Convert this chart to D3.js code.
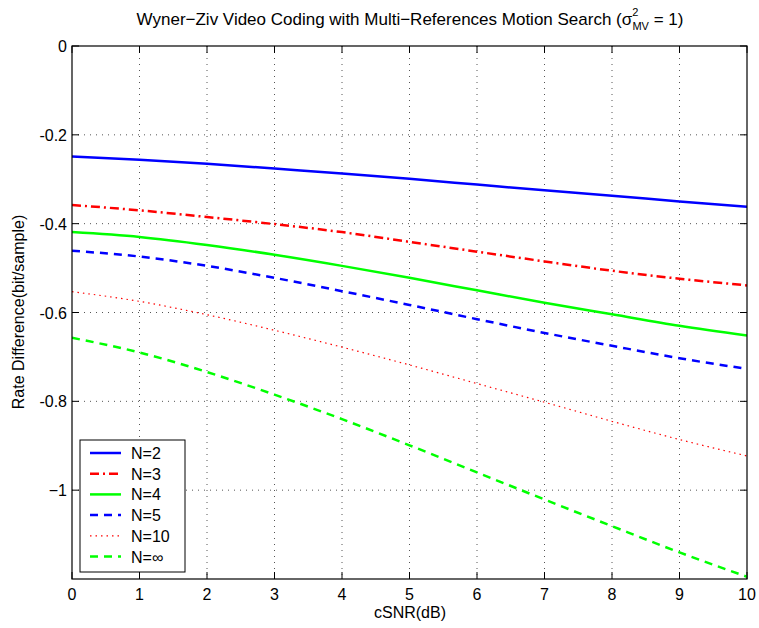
<!DOCTYPE html>
<html>
<head>
<meta charset="utf-8">
<script src="https://cdn.jsdelivr.net/npm/d3@7"></script>
<style>
  body { margin: 0; background: #fff; }
  text { font-family: "Liberation Sans", Arial, sans-serif; fill: #000; }
</style>
</head>
<body>
<svg id="mainsvg" width="759" height="628"></svg>
<script>
const snr = [0, 1, 2, 3, 4, 5, 6, 7, 8, 9, 10];
const n2   = [-0.249, -0.256, -0.265, -0.276, -0.287, -0.299, -0.312, -0.325, -0.337, -0.350, -0.362];
const n3   = [-0.358, -0.370, -0.385, -0.401, -0.419, -0.441, -0.463, -0.485, -0.506, -0.524, -0.539];
const n4   = [-0.419, -0.430, -0.448, -0.470, -0.495, -0.522, -0.550, -0.578, -0.604, -0.630, -0.652];
const n5   = [-0.461, -0.474, -0.495, -0.522, -0.552, -0.583, -0.615, -0.646, -0.675, -0.703, -0.727];
const n10  = [-0.553, -0.575, -0.605, -0.640, -0.678, -0.718, -0.760, -0.802, -0.845, -0.886, -0.923];
const ninf = [-0.657, -0.690, -0.734, -0.785, -0.840, -0.899, -0.960, -1.021, -1.081, -1.140, -1.195];

const seriesNames = ['N=2', 'N=3', 'N=4', 'N=5', 'N=10', 'N=\u221e'];
const seriesVals = [n2, n3, n4, n5, n10, ninf];
const xTicks = [0, 1, 2, 3, 4, 5, 6, 7, 8, 9, 10];
const yTicks = [0, -0.2, -0.4, -0.6, -0.8, -1];
const yTickLabels = ['0', '-0.2', '-0.4', '-0.6', '-0.8', '\u22121'];

const styles = [
  { color: '#0000ff', dash: null, w: 2.5 },
  { color: '#ff0000', dash: '9,4,2,4', w: 2.5 },
  { color: '#00ff00', dash: null, w: 2.5 },
  { color: '#0000ff', dash: '8,6', w: 2.5 },
  { color: '#ff0000', dash: '1.5,4', w: 1.2 },
  { color: '#00ff00', dash: '8,6', w: 2.5 }
];

const svg = d3.select('#mainsvg');
const pL = 72, pR = 747, pT = 46, pB = 579;

const x = d3.scaleLinear().domain([0, 10]).range([pL, pR]);
const y = d3.scaleLinear().domain([-1.2, 0]).range([pB, pT]);

const g = svg.append('g');

// grid
g.selectAll('.vgrid').data(xTicks.slice(1, -1)).join('line')
  .attr('x1', d => x(d)).attr('x2', d => x(d))
  .attr('y1', pT).attr('y2', pB)
  .attr('stroke', '#555').attr('stroke-width', 1).attr('stroke-dasharray', '1,5');
g.selectAll('.hgrid').data(yTicks.slice(1)).join('line')
  .attr('x1', pL).attr('x2', pR)
  .attr('y1', d => y(d)).attr('y2', d => y(d))
  .attr('stroke', '#555').attr('stroke-width', 1).attr('stroke-dasharray', '1,5');

// ticks (inward, on all sides)
const tl = 7;
xTicks.forEach(t => {
  g.append('line').attr('x1', x(t)).attr('x2', x(t)).attr('y1', pB).attr('y2', pB - tl).attr('stroke', '#000');
  g.append('line').attr('x1', x(t)).attr('x2', x(t)).attr('y1', pT).attr('y2', pT + tl).attr('stroke', '#000');
});
yTicks.forEach(t => {
  g.append('line').attr('x1', pL).attr('x2', pL + tl).attr('y1', y(t)).attr('y2', y(t)).attr('stroke', '#000');
  g.append('line').attr('x1', pR).attr('x2', pR - tl).attr('y1', y(t)).attr('y2', y(t)).attr('stroke', '#000');
});

// tick labels
g.selectAll('.xlab').data(xTicks).join('text')
  .attr('x', d => x(d)).attr('y', pB + 21)
  .attr('text-anchor', 'middle').attr('font-size', 16)
  .text(d => d);
g.selectAll('.ylab').data(yTicks).join('text')
  .attr('x', pL - 5).attr('y', d => y(d) + 6)
  .attr('text-anchor', 'end').attr('font-size', 16)
  .text((d, i) => yTickLabels[i]);

// curves
const line = d3.line().x((d, i) => x(snr[i])).y(d => y(d)).curve(d3.curveMonotoneX);
svg.append('clipPath').attr('id', 'clip').append('rect')
  .attr('x', pL).attr('y', pT).attr('width', pR - pL).attr('height', pB - pT);
g.selectAll('.curve').data(seriesVals).join('path')
  .attr('class', 'curve')
  .attr('clip-path', 'url(#clip)')
  .attr('d', d => line(d))
  .attr('fill', 'none')
  .attr('stroke', (d, i) => styles[i].color)
  .attr('stroke-width', (d, i) => styles[i].w)
  .attr('stroke-dasharray', (d, i) => styles[i].dash);

// box
g.append('rect').attr('x', pL).attr('y', pT).attr('width', pR - pL).attr('height', pB - pT)
  .attr('fill', 'none').attr('stroke', '#000').attr('stroke-width', 1.2);

// legend
const lg = g.append('g');
lg.append('rect').attr('x', 80).attr('y', 440).attr('width', 105).attr('height', 132)
  .attr('fill', '#fff').attr('stroke', '#000').attr('stroke-width', 1);
seriesNames.forEach((name, i) => {
  const yy = 453 + i * 20.7;
  lg.append('line').attr('x1', 90).attr('x2', 121).attr('y1', yy).attr('y2', yy)
    .attr('stroke', styles[i].color).attr('stroke-width', styles[i].w)
    .attr('stroke-dasharray', styles[i].dash);
  lg.append('text').attr('x', 131).attr('y', yy + 6).attr('font-size', 16).text(name);
});

// labels
svg.append('text').attr('x', 410).attr('y', 618).attr('text-anchor', 'middle').attr('font-size', 16).text('cSNR(dB)');
svg.append('text').attr('transform', 'translate(24,312) rotate(-90)').attr('text-anchor', 'middle')
  .attr('font-size', 16).text('Rate Difference(bit/sample)');

const title = svg.append('text').attr('x', 410).attr('y', 25).attr('text-anchor', 'middle').attr('font-size', 17);
title.append('tspan').text('Wyner\u2212Ziv Video Coding with Multi\u2212References Motion Search (\u03c3');
title.append('tspan').attr('font-size', 11).attr('dy', -9).text('2');
title.append('tspan').attr('font-size', 11).attr('dx', -6).attr('dy', 14).text('MV');
title.append('tspan').attr('dy', -5).text(' = 1)');
</script>
</body>
</html>
